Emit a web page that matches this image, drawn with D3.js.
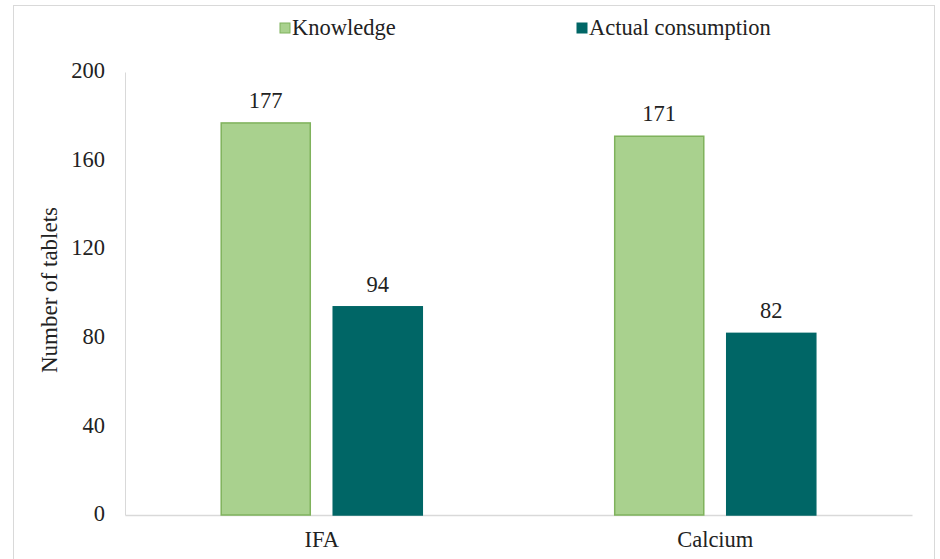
<!DOCTYPE html>
<html>
<head>
<meta charset="utf-8">
<script src="https://cdn.jsdelivr.net/npm/d3@7"></script>
<style>
  body { margin: 0; background: #fff; }
</style>
</head>
<body>
<div id="chart"></div>
<script>
// data
const categories = ["IFA", "Calcium"];
const seriesNames = ["Knowledge", "Actual consumption"];
const knowledge = [177, 171];
const actual = [94, 82];
const yTicks = [0, 40, 80, 120, 160, 200];

const colors = ["#a9d18e", "#006666"];
const strokes = ["#7fb25c", "#006666"];
const font = "'Times New Roman', 'Liberation Serif', 'DejaVu Serif', serif";
const fs = 22.5;

const w = 940, h = 559;
const margin = { left: 125, right: 28, top: 72, bottom: 44 };

const svg = d3.select("#chart").append("svg")
  .attr("width", w)
  .attr("height", h)
  .attr("font-family", font);

// outer border
svg.append("rect")
  .attr("x", 13.5).attr("y", 5.5)
  .attr("width", w - 19).attr("height", h)
  .attr("fill", "none")
  .attr("stroke", "#d9d9d9");

const x0 = d3.scaleBand()
  .domain(categories)
  .range([margin.left, w - margin.right])
  .paddingInner(0.489)
  .paddingOuter(0.2445);

const x1 = d3.scaleBand()
  .domain(seriesNames)
  .range([0, x0.bandwidth()])
  .paddingInner(0.205);

const y = d3.scaleLinear()
  .domain([0, 200])
  .range([h - margin.bottom, margin.top]);

// y axis
const yAxis = svg.append("g")
  .attr("transform", "translate(" + margin.left + ",0)")
  .call(d3.axisLeft(y).tickValues(yTicks).tickSize(0).tickPadding(20));
yAxis.attr("font-family", font).attr("font-size", fs);
yAxis.select(".domain").attr("stroke", "#d9d9d9");
yAxis.selectAll("text").attr("fill", "#222").attr("dy", "0.25em");

// x axis
const xAxis = svg.append("g")
  .attr("transform", "translate(0," + y(0) + ")")
  .call(d3.axisBottom(x0).tickSize(0).tickPadding(16));
xAxis.attr("font-family", font).attr("font-size", fs);
xAxis.select(".domain").attr("stroke", "#d9d9d9").attr("stroke-width", 1.5);
xAxis.selectAll("text").attr("fill", "#222");

const rows = categories.map(function (c, i) {
  return { cat: c, vals: [knowledge[i], actual[i]] };
});

const groups = svg.append("g").selectAll("g")
  .data(rows)
  .join("g")
  .attr("transform", function (d) { return "translate(" + x0(d.cat) + ",0)"; });

groups.selectAll("rect")
  .data(function (d) { return d.vals.map(function (v, j) { return { s: seriesNames[j], v: v, j: j }; }); })
  .join("rect")
  .attr("x", function (d) { return x1(d.s); })
  .attr("y", function (d) { return y(d.v); })
  .attr("width", x1.bandwidth())
  .attr("height", function (d) { return y(0) - y(d.v); })
  .attr("fill", function (d) { return colors[d.j]; })
  .attr("stroke", function (d) { return strokes[d.j]; })
  .attr("stroke-width", 1.5);

groups.selectAll("text.lbl")
  .data(function (d) { return d.vals.map(function (v, j) { return { s: seriesNames[j], v: v }; }); })
  .join("text")
  .attr("class", "lbl")
  .attr("x", function (d) { return x1(d.s) + x1.bandwidth() / 2; })
  .attr("y", function (d) { return y(d.v) - 15; })
  .attr("text-anchor", "middle")
  .attr("font-size", fs)
  .attr("fill", "#222")
  .text(function (d) { return d.v; });

// y axis title
svg.append("text")
  .attr("transform", "translate(57,290) rotate(-90)")
  .attr("text-anchor", "middle")
  .attr("font-size", 23)
  .attr("fill", "#222")
  .text("Number of tablets");

// legend
const legendX = [280, 577];
const legend = svg.append("g").selectAll("g")
  .data(seriesNames)
  .join("g")
  .attr("transform", function (d, i) { return "translate(" + legendX[i] + ",28)"; });

legend.append("rect")
  .attr("x", 0).attr("y", -5)
  .attr("width", 10).attr("height", 10)
  .attr("fill", function (d, i) { return colors[i]; })
  .attr("stroke", function (d, i) { return strokes[i]; });

legend.append("text")
  .attr("x", 12).attr("dy", "0.33em")
  .attr("font-size", fs)
  .attr("fill", "#222")
  .text(function (d) { return d; });
</script>
</body>
</html>
